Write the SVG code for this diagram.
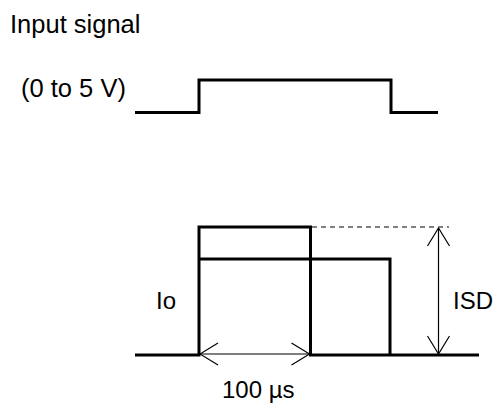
<svg xmlns="http://www.w3.org/2000/svg" width="498" height="411" viewBox="0 0 498 411">
<defs>
<style>
text{font-family:"Liberation Sans",Arial,sans-serif;font-size:24px;fill:#000}
.sig{fill:none;stroke:#000;stroke-width:3;stroke-linejoin:miter}
.thin{fill:none;stroke:#000;stroke-width:1.2}
.dash{fill:none;stroke:#000;stroke-width:1.2;stroke-dasharray:5,4}
</style>
<marker id="ah" viewBox="0 0 20 24" refX="19" refY="12" markerWidth="20" markerHeight="24" markerUnits="userSpaceOnUse" orient="auto-start-reverse">
<path d="M1,1 L19,12 L1,23" fill="none" stroke="#000" stroke-width="1.2"/>
</marker>
</defs>
<g id="labels">
<text x="10" y="32.5" style="font-size:25.5px">Input signal</text>
<text x="21" y="97" style="font-size:25.5px">(0 to 5 V)</text>
<text x="156" y="309">Io</text>
<text x="453" y="308.5">ISD</text>
<text x="222" y="398">100 µs</text>
</g>
<g id="input-signal">
<path class="sig" d="M135,112.5 H199 V80 H391 V112.5 H438"/>
</g>
<g id="output-current">
<path class="sig" d="M135,355 H199 V227 H310.5 V355 H479"/>
<path class="sig" d="M199,259 H390 V355"/>
</g>
<g id="connectors">
<path class="dash" d="M312,227 H449"/>
<line class="thin" x1="438.5" y1="228" x2="438.5" y2="354" marker-start="url(#ah)" marker-end="url(#ah)"/>
<line class="thin" x1="200" y1="354" x2="309.5" y2="354" marker-start="url(#ah)" marker-end="url(#ah)"/>
</g>
</svg>
